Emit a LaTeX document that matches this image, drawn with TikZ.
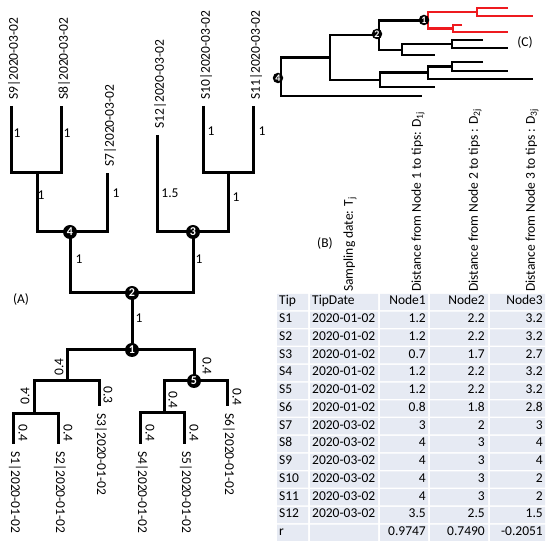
\documentclass[tikz,border=0pt]{standalone}
\usepackage{fontspec}
\setmainfont{Carlito}
\usepackage{xcolor}
\usetikzlibrary{positioning}
\definecolor{cellfill}{HTML}{E6EAF3}
\definecolor{cladered}{HTML}{EE1A1F}

\begin{document}
\begin{tikzpicture}[x=1pt,y=-1pt,
    branch/.style={line width=3pt},
    thinbranch/.style={line width=2.5pt},
    tag/.style={circle,fill=black,text=white,inner sep=0pt,minimum size=14pt,
      font=\fontsize{12}{12}\selectfont\bfseries},
    smalltag/.style={tag,minimum size=10.5pt,font=\fontsize{10}{10}\selectfont\bfseries},
    txt/.style={inner sep=0pt,font=\fontsize{13.5}{14}\selectfont},
    tipup/.style={txt,rotate=90,anchor=west},
    tipdown/.style={txt,rotate=-90,anchor=west},
    cell/.style={txt,text height=1.5ex,text depth=0.25ex}]
\useasboundingbox (0,0) rectangle (550,545);

%% (A) the tree
% upper part
\coordinate (n2) at (132,293);
\coordinate (n4) at (70,232);
\coordinate (n3) at (193,232);
\coordinate (p)  at (37,173);
\coordinate (q)  at (228,173);
\coordinate (s9) at (11,106);
\coordinate (s8) at (61,106);
\coordinate (s7) at (107,173);
\coordinate (s12) at (157,135);
\coordinate (s10) at (203,106);
\coordinate (s11) at (253,106);
% lower part
\coordinate (n1) at (132,350);
\coordinate (n5) at (194,381);
\coordinate (l)  at (67,381);
\coordinate (ll) at (34,414);
\coordinate (r)  at (164,413);
\coordinate (s1) at (13,444);
\coordinate (s2) at (58,444);
\coordinate (s3) at (99,406);
\coordinate (s4) at (140,444);
\coordinate (s5) at (184,444);
\coordinate (s6) at (227,406);

\draw[branch] (s9) |- (p) -| (s8);
\draw[branch] (p) |- (n4) -| (s7);
\draw[branch] (s10) |- (q) -| (s11);
\draw[branch] (s12) |- (n3) -| (q);
\draw[branch] (n4) |- (n2) -| (n3);
\draw[branch] (n2) -- (n1);
\draw[branch] (l) |- (n1) -| (n5);
\draw[branch] (ll) |- (l) -| (s3);
\draw[branch] (s1) |- (ll) -| (s2);
\draw[branch] (r) |- (n5) -| (s6);
\draw[branch] (s4) |- (r) -| (s5);

\foreach \k in {1,...,5}
  \node[tag] (t\k) at (n\k) {\k};

% tip names
\foreach \s/\name in {s9/S9,s8/S8,s7/S7,s12/S12,s10/S10,s11/S11}
  \node[tipup] (lab\s) at ([xshift=3pt,yshift=6pt]\s) {\name|2020-03-02};
\foreach \s/\name in {s1/S1,s2/S2,s3/S3,s4/S4,s5/S5,s6/S6}
  \node[tipdown] (lab\s) at ([xshift=2pt,yshift=-7pt]\s) {\name|2020-01-02};

% branch lengths
\foreach \x/\y/\len/\rot [count=\k] in {17/133/1/0, 67/133/1/0, 41/195/1/0,
    116/193/1/0, 170/193/1.5/0, 211/131/1/0, 262/131/1/0, 236/197/1/0,
    79/259/1/0, 199/259/1/0, 139/318/1/0,
    59/367/0.4/90, 207/366/0.4/-90, 25/396/0.4/90, 108/395/0.3/-90,
    173/400/0.4/-90, 237/397/0.4/-90,
    23/433/0.4/-90, 68/433/0.4/-90, 150/433/0.4/-90, 194/433/0.4/-90}
  \node[txt,rotate=\rot] (bl\k) at (\x,\y) {\len};

\node[txt] (capA) at (21,300) {(A)};

%% (C) the small tree
\coordinate (cr) at (281,76.75);
\coordinate (ca) at (330,57.5);
\coordinate (cb) at (379,35);
\coordinate (c1) at (428,20.5);
\coordinate (ce) at (477,12);
\coordinate (cf) at (453,28.5);
\coordinate (cd) at (402,50);
\coordinate (cg) at (452,44);
\coordinate (ch) at (380,80);
\coordinate (ci) at (428,72.5);
\coordinate (cj) at (452,66.5);
\coordinate (z1) at (422,96);
\coordinate (z2) at (508,8);
\coordinate (z3) at (533,16);
\coordinate (z4) at (462,25);
\coordinate (z5) at (508,32);
\coordinate (z6) at (483,40);
\coordinate (z7) at (508,48);
\coordinate (z8) at (435,55);
\coordinate (z9) at (483,62);
\coordinate (z10) at (508,71);
\coordinate (z11) at (533,79);
\coordinate (z12) at (435,87);

\draw[thinbranch] (ca) -| (cr) |- (z1);
\draw[thinbranch] (cb) -| (ca) |- (ch);
\draw[thinbranch] (c1) -| (cb) |- (cd);
\draw[thinbranch,cladered] (ce) -| (c1) |- (cf);
\draw[thinbranch,cladered] (z2) -| (ce) |- (z3);
\draw[thinbranch,cladered] (z4) -| (cf) |- (z5);
\draw[thinbranch] (cg) -| (cd) |- (z8);
\draw[thinbranch] (z6) -| (cg) |- (z7);
\draw[thinbranch] (ci) -| (ch) |- (z12);
\draw[thinbranch] (cj) -| (ci) |- (z11);
\draw[thinbranch] (z9) -| (cj) |- (z10);

\node[smalltag] (ct1) at (424,20) {1};
\node[smalltag] (ct2) at (377,34) {2};
\node[smalltag] (ct4) at (278,78) {4};
\node[txt] (capC) at (525,43) {(C)};

%% (B) the table
\node[txt] (capB) at (325,244) {(B)};
\node[tipup] (hdate) at (350,292) {Sampling date: T\textsubscript{j}};
\node[tipup] (hd1) at (418,292) {Distance from Node 1 to tips: D\textsubscript{1j}};
\node[tipup] (hd2) at (475,292) {Distance from Node 2 to tips : D\textsubscript{2j}};
\node[tipup] (hd3) at (532,292) {Distance from Node 3 to tips : D\textsubscript{3j}};

\foreach \tip/\day/\da/\db/\dc [count=\k from 0] in {
    Tip/TipDate/Node1/Node2/Node3,
    S1/2020-01-02/1.2/2.2/3.2, S2/2020-01-02/1.2/2.2/3.2,
    S3/2020-01-02/0.7/1.7/2.7, S4/2020-01-02/1.2/2.2/3.2,
    S5/2020-01-02/1.2/2.2/3.2, S6/2020-01-02/0.8/1.8/2.8,
    S7/2020-03-02/3/2/3, S8/2020-03-02/4/3/4, S9/2020-03-02/4/3/4,
    S10/2020-03-02/4/3/2, S11/2020-03-02/4/3/2,
    S12/2020-03-02/3.5/2.5/1.5, r//0.9747/0.7490/-0.2051} {
  \pgfmathsetmacro\yy{302+17.75*\k}
  \fill[cellfill] (277,\yy-8.1) rectangle (308,\yy+8.1)
                  (310,\yy-8.1) rectangle (378,\yy+8.1)
                  (380,\yy-8.1) rectangle (428,\yy+8.1)
                  (430,\yy-8.1) rectangle (488,\yy+8.1)
                  (490,\yy-8.1) rectangle (545,\yy+8.1);
  \node[cell,anchor=west] (tip\k) at (279,\yy) {\tip};
  \node[cell,anchor=west] (day\k) at (312,\yy) {\day};
  \node[cell,anchor=east] (da\k) at (426,\yy) {\da};
  \node[cell,anchor=east] (db\k) at (485,\yy) {\db};
  \node[cell,anchor=east] (dc\k) at (543,\yy) {\dc};
}
\end{tikzpicture}
\end{document}
